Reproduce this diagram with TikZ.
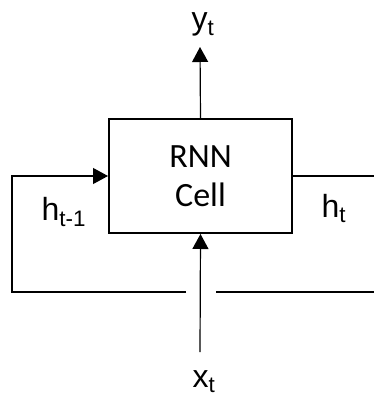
\documentclass[tikz,border=0pt]{standalone}
\usepackage{fontspec}
\setmainfont{Carlito}
\newfontfamily\labelfont{Liberation Sans}
\usetikzlibrary{arrows.meta,positioning}
\tikzset{every picture/.style={line width=1.2pt}}
\tikzset{cellbox/.style={draw,line width=2pt,minimum width=183pt,minimum height=114pt,align=center,inner sep=0pt,font=\fontsize{34}{39}\selectfont}}
\tikzset{flow/.style={-{Triangle[length=15pt,width=16pt]}}}
\tikzset{lbl/.style={inner sep=0pt,font=\labelfont\fontsize{32}{38}\selectfont}}

\begin{document}
\begin{tikzpicture}[x=1pt,y=-1pt]
    \useasboundingbox (0,0) rectangle (374,398);
    \node[cellbox] (cell) at (200.5,176) {RNN\\Cell};
    \node[lbl,anchor=base west] (yt) at (191,30) {y\textsubscript{t}};
    \node[lbl,anchor=base west] (xt) at (192,387) {x\textsubscript{t}};
    \node[lbl,anchor=base west] (hprev) at (41,220) {h\textsubscript{t-1}};
    \node[lbl,anchor=base west] (hnext) at (321,217) {h\textsubscript{t}};
    \coordinate (ytip) at (200,47);
    \coordinate (xtail) at (200,352);
    \coordinate (gapL) at (186,292);
    \coordinate (gapR) at (216,292);
    \coordinate (edgeT) at (374,176);
    \coordinate (edgeB) at (374,292);
    \draw[flow] (cell.north) -- (ytip);
    \draw[flow] (xtail) -- (cell.south);
    % feedback loop into the cell
    \draw[flow] (gapL) -- (12,292) -- (12,176) -- (cell.west);
    \draw (cell.east) -- (edgeT);
    \draw (gapR) -- (edgeB);
\end{tikzpicture}
\end{document}
